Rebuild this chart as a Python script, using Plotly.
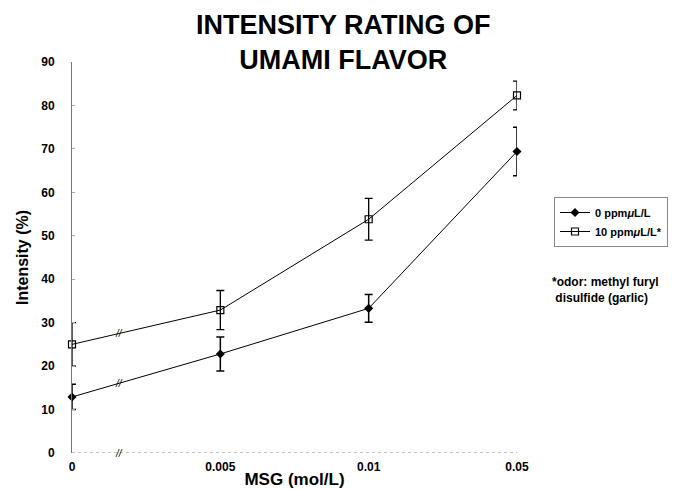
import plotly.graph_objects as go

categories = ["0", "0.005", "0.01", "0.05"]
positions = [0, 1, 2, 3]
series_names = ["<b>0 ppm<i>μ</i>L/L</b>", "<b>10 ppm<i>μ</i>L/L*</b>"]
values_0ppm = [12.9, 22.8, 33.3, 69.4]
errors_0ppm = [2.9, 3.9, 3.2, 5.6]
values_10ppm = [25.0, 32.9, 53.8, 82.3]
errors_10ppm = [5.0, 4.5, 4.8, 3.3]
y_ticks = [0, 10, 20, 30, 40, 50, 60, 70, 80, 90]

FONT = "Arial, Liberation Sans, sans-serif"
L, R, T, B, W, H = 72, 159, 62, 36, 676, 489
PW, PH = W - L - R, H - T - B


def px_x(px):
    return (px - L) / PW


def px_y(py):
    return (H - B - py) / PH


fig = go.Figure()
fig.add_trace(go.Scatter(
    x=positions, y=values_0ppm, name=series_names[0], mode="lines+markers",
    line=dict(color="black", width=1),
    marker=dict(symbol="diamond", size=7, color="black"),
    error_y=dict(type="data", array=errors_0ppm, color="black", thickness=1.5, width=4),
    cliponaxis=False,
))
fig.add_trace(go.Scatter(
    x=positions, y=values_10ppm, name=series_names[1], mode="lines+markers",
    line=dict(color="black", width=1),
    marker=dict(symbol="square-open", size=7, color="black", line=dict(width=1.2)),
    error_y=dict(type="data", array=errors_10ppm, color="black", thickness=1.3, width=4),
    cliponaxis=False,
))

# axis break marks on the first segment
frac = 0.32
anns = []
for vals in (values_0ppm, values_10ppm):
    yb = vals[0] + frac * (vals[1] - vals[0])
    anns.append(dict(x=frac, y=yb, xref="x", yref="y", text="<i>//</i>", showarrow=False,
                     font=dict(family=FONT, size=10, color="black")))
anns.append(dict(x=frac, y=0, xref="x", yref="y", text="<i>//</i>", showarrow=False,
                 font=dict(family=FONT, size=10, color="black")))

# title
anns.append(dict(xref="paper", yref="paper", x=px_x(343), y=px_y(8), xanchor="center",
                 yanchor="top", showarrow=False, align="center",
                 text="<b>INTENSITY RATING OF<br>UMAMI FLAVOR</b>",
                 font=dict(family=FONT, size=27, color="black")))

# footnote
anns.append(dict(xref="paper", yref="paper", x=px_x(550), y=px_y(273),
                 xanchor="left", yanchor="top", align="left", showarrow=False,
                 text="<b>*odor: methyl furyl<br> disulfide (garlic)</b>",
                 font=dict(family=FONT, size=12, color="black")))

fig.update_layout(
    width=W, height=H,
    margin=dict(l=L, r=R, t=T, b=B, autoexpand=False),
    paper_bgcolor="white", plot_bgcolor="white",
    font=dict(family=FONT, color="black"),
    legend=dict(x=px_x(554), y=px_y(197),
                xanchor="left", yanchor="top",
                bordercolor="#888888", borderwidth=1,
                font=dict(family=FONT, size=11, color="black"),
                itemwidth=30, tracegroupgap=0),
    annotations=anns,
    showlegend=True,
)
fig.update_xaxes(
    range=[0, 3], tickvals=positions, ticktext=["<b>%s</b>" % c for c in categories],
    showgrid=False, zeroline=False, showline=False, ticks="",
    ticklabelstandoff=5,
    tickfont=dict(family=FONT, size=12, color="black"),
    title=dict(text="<b>MSG (mol/L)</b>", font=dict(family=FONT, size=17, color="black"),
               standoff=0),
)
fig.update_yaxes(
    range=[0, 90], tickvals=y_ticks, ticktext=["<b>%d</b>" % t for t in y_ticks],
    showgrid=False, zeroline=False, showline=True, linecolor="#777777", linewidth=1,
    ticks="inside", ticklen=3, tickcolor="#aaaaaa",
    ticklabelstandoff=14,
    tickfont=dict(family=FONT, size=12, color="black"),
    title=dict(text="<b>Intensity (%)</b>", font=dict(family=FONT, size=16, color="black"),
               standoff=8),
)
# dotted base line along y = 0
fig.add_shape(type="line", xref="x domain", yref="y", x0=0, x1=1, y0=0, y1=0,
              line=dict(color="#888888", width=1, dash="dot"))

fig.write_html("out.html")
